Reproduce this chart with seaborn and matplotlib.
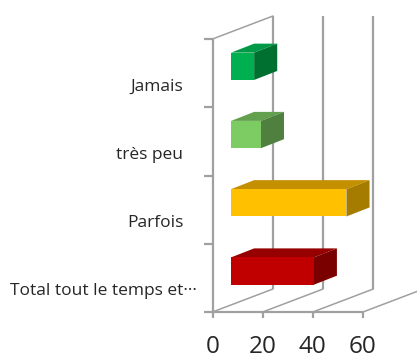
import matplotlib
matplotlib.use('Agg')
import matplotlib.pyplot as plt
from matplotlib.patches import Polygon
import numpy as np
import seaborn as sns

# Data
categories = ['Jamais', 'très peu', 'Parfois', 'Total tout le temps et···']
values = [9.2, 11.9, 46, 33]
front_colors = ['#00B050', '#7CCB63', '#FFC000', '#C00000']
top_colors = ['#009A46', '#62A04D', '#C49000', '#960000']
side_colors = ['#007030', '#4F8040', '#A67C00', '#7A0000']
x_ticks = [0, 20, 40, 60]

grey = '#A0A0A0'
txt = '#262626'

W, H = 417, 358
sns.set_style('white')
plt.rcParams['font.family'] = ['Open Sans', 'DejaVu Sans']

fig = plt.figure(figsize=(W / 100, H / 100), dpi=100)
ax = fig.add_axes([212.5 / W, 1 - 312 / H, 150.5 / W, 273 / H])

sns.barplot(x=values, y=categories, hue=categories, palette=front_colors, saturation=1,
            dodge=False, legend=False, width=0.4, ax=ax, zorder=5, linewidth=0)

ax.set_xlim(0, 60)
ax.set_ylim(3.5, -0.5)

# fake 3D: depth of the wall and of the bars, in data units
wall_dx, wall_dy = 24.1, 0.337
gap_dx, gap_dy = 7.4, 0.1
bar_dx, bar_dy = 9.2, 0.132

lw = 1.6
line = dict(color=grey, lw=lw, clip_on=False, solid_capstyle='butt')

# back wall and floor
for t in x_ticks:
    end_x, end_y = t + wall_dx, 3.5 - wall_dy
    if t < 60:
        ax.plot([t + wall_dx] * 2, [3.5 - wall_dy, -0.5 - wall_dy], zorder=1, **line)
    else:
        end_x, end_y = 60 + (54 / 2.51), 3.5 - wall_dy * 54 / 60.5
    ax.plot([t, end_x], [3.5, end_y], zorder=1, lw=1.1, color=grey, clip_on=False)
ax.plot([0, wall_dx], [-0.5, -0.5 - wall_dy], zorder=1, lw=1.1, color=grey, clip_on=False)

# front axes
ax.plot([0, 0], [-0.5, 3.5], zorder=2, **line)
ax.plot([0, 60], [3.5, 3.5], zorder=2, **line)

# bars: shift the front face and add top and side faces
bars = [p for p in ax.patches]
for bar, front, top, side in zip(bars, front_colors, top_colors, side_colors):
    bar.set_x(gap_dx)
    bar.set_y(bar.get_y() - gap_dy)
    x0, x1 = bar.get_x(), bar.get_x() + bar.get_width()
    y0, y1 = bar.get_y(), bar.get_y() + bar.get_height()
    ax.add_patch(Polygon([(x0, y0), (x1, y0), (x1 + bar_dx, y0 - bar_dy), (x0 + bar_dx, y0 - bar_dy)],
                         closed=True, fc=top, ec='none', zorder=4, clip_on=False))
    ax.add_patch(Polygon([(x1, y0), (x1 + bar_dx, y0 - bar_dy), (x1 + bar_dx, y1 - bar_dy), (x1, y1)],
                         closed=True, fc=side, ec='none', zorder=4, clip_on=False))
    bar.set_clip_on(False)

sns.despine(ax=ax, left=True, bottom=True, top=True, right=True)
ax.grid(False)
ax.patch.set_alpha(0)

# ticks on band edges, labels on minor ticks below the band centre
ax.set_xticks(x_ticks)
ax.set_yticks(np.arange(-0.5, 4, 1))
ax.set_yticklabels([])
ax.set_yticks(np.arange(len(categories)) + 0.17, labels=categories, minor=True)
ax.tick_params(axis='y', which='major', left=True, length=6.5, width=lw, color=grey)
ax.tick_params(axis='y', which='minor', left=False, length=0, pad=21, labelsize=12.5, labelcolor=txt)
ax.tick_params(axis='x', bottom=True, length=4.5, width=lw, color=grey, pad=12, labelsize=17.5, labelcolor=txt)
ax.yaxis.get_minor_ticks()[3].set_pad(11)
ax.set_xlabel('')
ax.set_ylabel('')

fig.savefig('out.png', dpi=100)
